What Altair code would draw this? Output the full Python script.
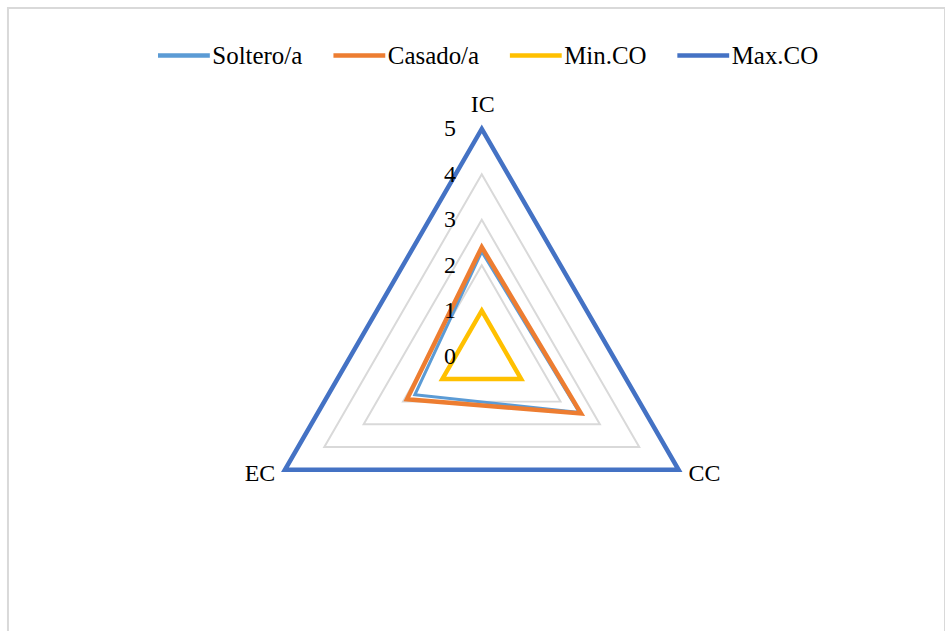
import altair as alt
import pandas as pd

# ---- data ----
categories = ["IC", "CC", "EC"]
series_names = ["Soltero/a", "Casado/a", "Min.CO", "Max.CO"]
soltero = [2.3, 2.48, 1.7]
casado = [2.4, 2.52, 1.9]
min_co = [1, 1, 1]
max_co = [5, 5, 5]
tick_values = [0, 1, 2, 3, 4, 5]
colors = ["#5B9BD5", "#ED7D31", "#FFC000", "#4472C4"]
widths = [3, 4.5, 4.5, 4.5]

FONT = "Liberation Serif"

rows = []
for name, vals in zip(series_names, [soltero, casado, min_co, max_co]):
    for i, (c, v) in enumerate(zip(categories, vals)):
        rows.append({"series": name, "cat": c, "idx": i, "value": v})
df = pd.DataFrame(rows)

grid_df = pd.DataFrame(
    [{"ring": t, "cat": c, "idx": i, "value": t}
     for t in tick_values[1:] for i, c in enumerate(categories)]
)
ticks_df = pd.DataFrame({"value": tick_values, "label": [str(t) for t in tick_values], "idx": 0})
cats_df = pd.DataFrame({"cat": categories, "idx": list(range(len(categories))), "value": max(tick_values)})

xs = alt.Scale(domain=[-10.423, 10.191], nice=False, zero=False)
ys = alt.Scale(domain=[-6.156, 7.660], nice=False, zero=False)


def polar(chart):
    return chart.transform_calculate(
        ang="PI/2 - datum.idx*2*PI/3"
    ).transform_calculate(
        px="datum.value*cos(datum.ang)", py="datum.value*sin(datum.ang)"
    )


X = alt.X("px:Q", scale=xs, axis=None)
Y = alt.Y("py:Q", scale=ys, axis=None)

grid = polar(alt.Chart(grid_df)).mark_line(
    interpolate="linear-closed", color="#d9d9d9", strokeWidth=2, strokeJoin="miter"
).encode(x=X, y=Y, detail="ring:N", order="idx:Q")

color = alt.Color("series:N", scale=alt.Scale(domain=series_names, range=colors), title=None)

layers = [grid]
for name, w in zip(series_names, widths):
    layers.append(
        polar(alt.Chart(df)).transform_filter(alt.datum.series == name).mark_line(
            interpolate="linear-closed", strokeWidth=w, strokeJoin="miter"
        ).encode(x=X, y=Y, color=color, order="idx:Q")
    )

tick_text = polar(alt.Chart(ticks_df)).mark_text(
    align="center", baseline="alphabetic", dx=-32, dy=7.5,
    font=FONT, fontSize=24, color="black"
).encode(x=X, y=Y, text="label:N")
layers.append(tick_text)

label_offsets = {"IC": (1, -17), "CC": (26, 11), "EC": (-25, 11)}
for c in categories:
    dx, dy = label_offsets[c]
    layers.append(
        polar(alt.Chart(cats_df)).transform_filter(alt.datum.cat == c).mark_text(
            align="center", baseline="alphabetic", dx=dx, dy=dy,
            font=FONT, fontSize=24, color="black"
        ).encode(x=X, y=Y, text="cat:N")
    )

chart = alt.layer(*layers).properties(
    width=940, height=630,
    padding={"left": 8, "top": 7, "right": 0, "bottom": 0},
    autosize=alt.AutoSizeParams(type="none"),
    background="white",
).configure_view(
    stroke="#d9d9d9", strokeWidth=2
).configure_legend(
    orient="none", legendX=148, legendY=19, direction="horizontal",
    symbolType="stroke", symbolSize=2704, symbolStrokeWidth=4.5,
    labelFont=FONT, labelFontSize=25, labelColor="black", labelOffset=0,
    columnPadding=21, padding=0, labelLimit=0,
)

chart.save("out.html", embed_options={"renderer": "svg", "actions": False})
